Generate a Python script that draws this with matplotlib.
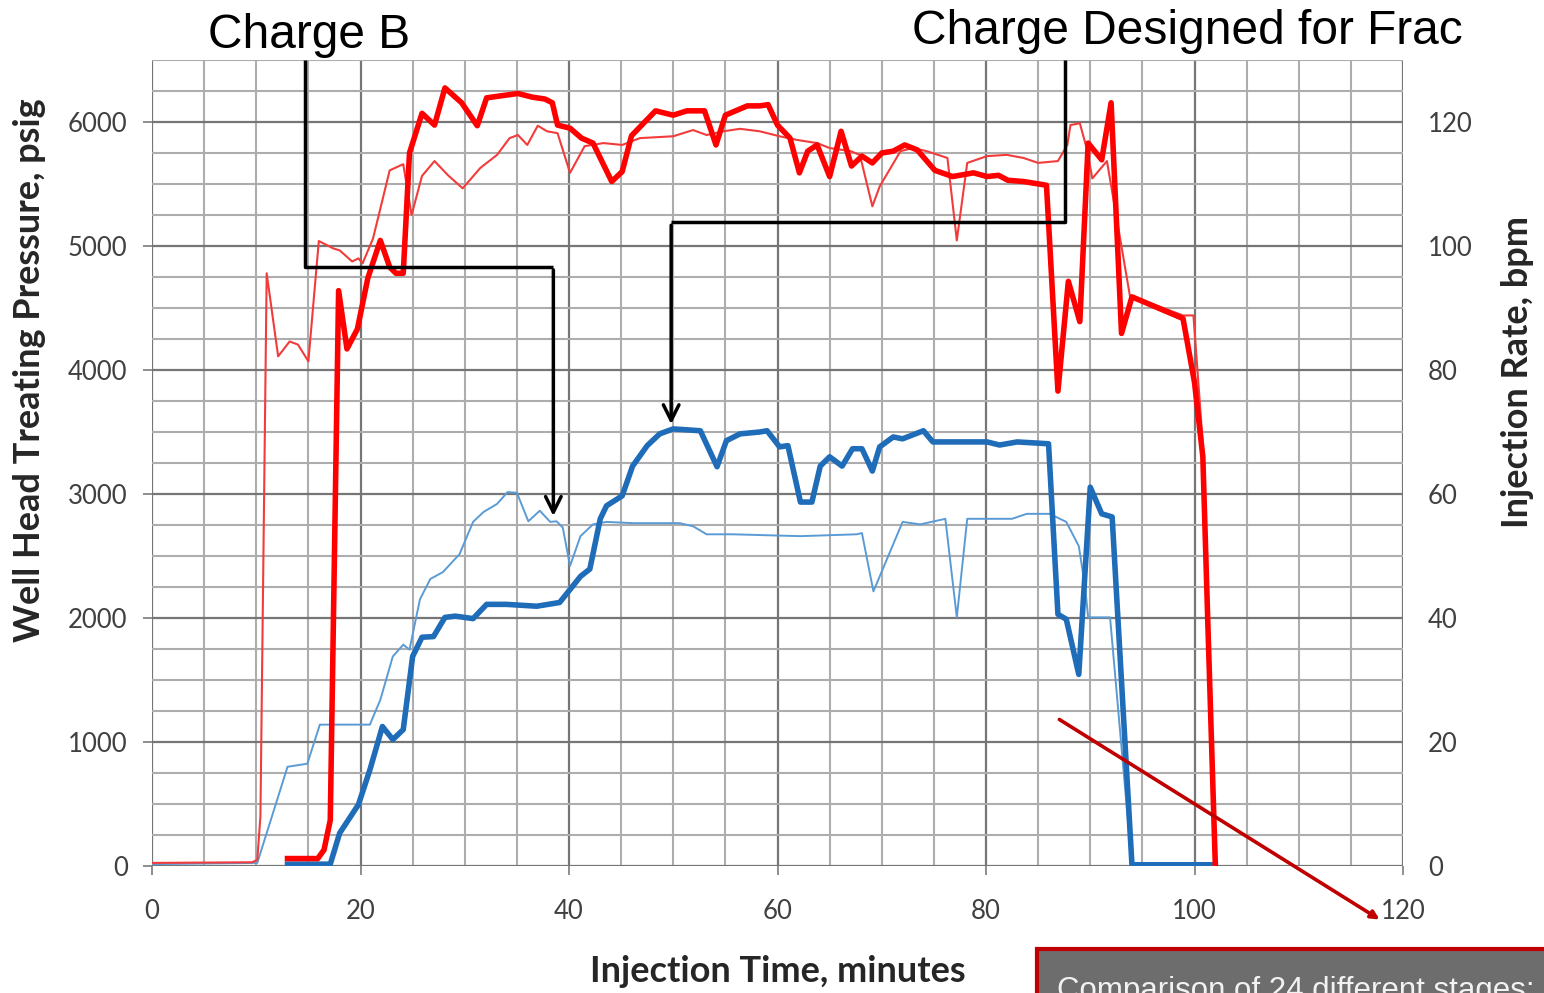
import matplotlib
matplotlib.use("Agg")
import matplotlib.pyplot as plt
from matplotlib.ticker import MultipleLocator
from matplotlib.patches import Rectangle, FancyArrowPatch
from matplotlib.lines import Line2D

# ---------------- data ----------------
# Charge Designed for Frac - pressure (psig)
frac_p_t = [13.0, 15.9, 16.5, 17.1, 17.9, 18.7, 19.7, 20.7, 21.9, 22.8, 23.4, 24.1, 24.7, 25.9,
            27.1, 28.1, 29.7, 31.2, 32.1, 35.1, 36.5, 37.7, 38.4, 38.9, 40.1, 41.2, 42.3, 44.1,
            45.1, 46.0, 48.3, 50.0, 51.3, 53.0, 54.1, 55.0, 57.1, 58.3, 59.1, 60.0, 61.2, 62.1,
            62.9, 63.8, 65.0, 66.1, 67.1, 68.1, 69.1, 70.0, 71.1, 72.2, 73.4, 75.1, 76.8, 78.8,
            80.1, 81.2, 82.1, 83.6, 85.8, 86.9, 87.9, 89.0, 89.8, 91.1, 92.0, 93.0, 94.0, 98.9,
            100.0, 100.8, 101.3, 102.0]
frac_p = [60, 60, 130, 370, 4640, 4170, 4330, 4740, 5045, 4830, 4780, 4780, 5750, 6070,
          5975, 6275, 6155, 5970, 6195, 6230, 6200, 6185, 6155, 5975, 5950, 5870, 5830, 5520,
          5600, 5890, 6090, 6055, 6090, 6090, 5815, 6055, 6130, 6130, 6140, 5975, 5870, 5590,
          5765, 5815, 5560, 5925, 5645, 5725, 5670, 5750, 5765, 5815, 5775, 5610, 5560, 5590,
          5560, 5570, 5530, 5520, 5490, 3830, 4715, 4390, 5830, 5695, 6155, 4295, 4590, 4415,
          3900, 3300, 1900, 0]

# Charge B - pressure (psig)
chb_p_t = [0, 9.6, 10.1, 10.4, 11.0, 12.1, 13.2, 14.0, 15.0, 16.0, 17.4, 18.0, 19.2, 19.8,
           20.2, 21.2, 22.8, 24.1, 24.9, 25.9, 27.1, 28.4, 29.8, 31.5, 33.1, 34.3, 35.1, 36.0,
           37.0, 37.9, 38.9, 40.1, 41.5, 43.3, 45.1, 46.8, 50.0, 51.9, 53.2, 54.8, 56.4, 58.3,
           60.2, 61.9, 63.8, 65.0, 67.0, 67.9, 69.1, 69.8, 71.8, 73.0, 74.3, 76.3, 77.2, 78.2,
           80.1, 82.0, 83.6, 85.0, 86.9, 87.8, 88.1, 89.0, 89.7, 90.2, 91.6, 93.8, 98.9, 99.9,
           100.8, 101.3, 102.0]
chb_p = [25, 30, 50, 400, 4780, 4110, 4230, 4205, 4070, 5040, 4980, 4965, 4875, 4900,
         4860, 5060, 5610, 5660, 5250, 5565, 5685, 5570, 5465, 5630, 5735, 5870, 5895, 5815,
         5970, 5925, 5910, 5590, 5805, 5830, 5815, 5870, 5885, 5935, 5895, 5925, 5945, 5925,
         5885, 5855, 5830, 5790, 5765, 5735, 5320, 5480, 5765, 5790, 5765, 5710, 5045, 5670,
         5725, 5735, 5710, 5670, 5685, 5815, 5975, 5990, 5775, 5545, 5685, 4600, 4440, 4440,
         3400, 1900, 0]

# Charge Designed for Frac - injection rate (bpm)
frac_r_t = [13.0, 17.1, 18.0, 19.8, 20.9, 22.1, 23.1, 24.1, 25.0, 25.9, 27.0, 28.1, 29.1,
            30.8, 32.1, 34.0, 36.9, 39.1, 40.1, 41.1, 42.0, 43.0, 43.6, 45.1, 46.1, 47.5,
            48.7, 50.0, 52.6, 54.2, 55.1, 56.4, 58.3, 59.0, 60.2, 61.0, 62.2, 63.3, 64.1,
            65.0, 66.2, 67.2, 68.1, 69.1, 69.8, 71.1, 72.0, 74.0, 74.9, 80.1, 81.3, 83.0,
            86.0, 86.9, 87.7, 88.9, 90.0, 91.1, 92.1, 94.0, 102.0]
frac_r = [0.3, 0.3, 5.3, 9.9, 15.5, 22.5, 20.4, 22.0, 33.8, 36.9, 37.0, 40.1, 40.3,
          39.9, 42.2, 42.2, 41.9, 42.5, 44.6, 46.7, 47.9, 56.0, 58.1, 59.7, 64.5, 67.8,
          69.7, 70.5, 70.2, 64.4, 68.6, 69.7, 70.0, 70.2, 67.6, 67.8, 58.7, 58.7, 64.5,
          66.0, 64.5, 67.3, 67.3, 63.7, 67.6, 69.2, 68.9, 70.2, 68.4, 68.4, 67.9, 68.4,
          68.1, 40.6, 39.8, 30.9, 61.1, 56.8, 56.3, 0.2, 0.2]

# Charge B - injection rate (bpm)
chb_r_t = [0, 10.1, 13.0, 14.9, 16.1, 20.9, 21.9, 23.1, 24.1, 24.7, 25.7, 26.7, 27.9, 29.5,
           30.8, 31.8, 33.1, 34.1, 35.0, 36.1, 37.2, 38.2, 38.8, 39.4, 40.1, 41.1, 42.3, 43.6,
           46.1, 50.6, 51.9, 53.2, 55.7, 62.2, 67.6, 68.1, 69.2, 72.0, 73.7, 76.1, 77.2, 78.2,
           82.5, 83.9, 86.1, 87.7, 88.9, 89.5, 89.8, 91.9, 94.0]
chb_r = [0.3, 0.5, 16.0, 16.5, 22.8, 22.8, 26.8, 33.8, 35.7, 34.9, 43.0, 46.3, 47.4, 50.3,
         55.5, 57.1, 58.4, 60.3, 60.2, 55.6, 57.3, 55.5, 55.6, 54.6, 48.4, 53.2, 55.1, 55.5,
         55.3, 55.3, 54.8, 53.5, 53.5, 53.2, 53.5, 53.7, 44.3, 55.5, 55.1, 56.0, 40.1, 56.0,
         56.0, 56.8, 56.8, 55.5, 51.6, 45.1, 40.1, 40.1, 0]

x_ticks = [0, 20, 40, 60, 80, 100, 120]
p_ticks = [0, 1000, 2000, 3000, 4000, 5000, 6000]
r_ticks = [0, 20, 40, 60, 80, 100, 120]

# ---------------- figure ----------------
W, H = 1544, 993
fig = plt.figure(figsize=(W / 100, H / 100), dpi=100)
fig.patch.set_facecolor("white")

L, R, T, B = 152, 1403, 60, 866
ax = fig.add_axes([L / W, 1 - B / H, (R - L) / W, (B - T) / H])  # rate axis (grid)
ax2 = ax.twinx()                                                  # pressure axis

RED = "#ff0000"
RED_THIN = "#f23c3c"
BLUE = "#1f6cb8"
BLUE_THIN = "#5b9bd5"

ax.set_xlim(0, 120)
ax.set_ylim(0, 130)
ax2.set_ylim(0, 6500)

ax.set_axisbelow(True)
ax.xaxis.set_major_locator(MultipleLocator(20))
ax.xaxis.set_minor_locator(MultipleLocator(5))
ax.yaxis.set_major_locator(MultipleLocator(20))
ax.yaxis.set_minor_locator(MultipleLocator(5))
ax.grid(which="major", color="#767676", lw=1.6)
ax.grid(which="minor", color="#adadad", lw=1.5)

ax.set_xticks(x_ticks)
ax.set_yticks(r_ticks)
ax2.set_yticks(p_ticks)
ax.set_xticklabels([str(v) for v in x_ticks])
ax.set_yticklabels([str(v) for v in r_ticks])
ax2.set_yticklabels([str(v) for v in p_ticks])

ax.yaxis.tick_right()
ax.yaxis.set_label_position("right")
ax2.yaxis.tick_left()
ax2.yaxis.set_label_position("left")

for a in (ax, ax2):
    for s in a.spines.values():
        s.set_visible(False)

TS = 18.5
ax.tick_params(axis="x", which="major", length=6.5, width=1.2, color="#7a7a7a",
               pad=17, labelcolor="#404040", labelsize=TS)
ax.tick_params(axis="x", which="minor", length=0)
ax.tick_params(axis="y", which="both", length=0, pad=18, labelcolor="#404040", labelsize=TS)
ax2.tick_params(axis="y", which="major", length=6.5, width=1.2, color="#7a7a7a",
                pad=11, labelcolor="#404040", labelsize=TS)
for lab in ax.get_xticklabels() + ax.get_yticklabels() + ax2.get_yticklabels():
    lab.set_fontfamily(["Lato", "DejaVu Sans"])

# series
ax.plot(chb_r_t, chb_r, color=BLUE_THIN, lw=1.4, zorder=3)
ax.plot(frac_r_t, frac_r, color=BLUE, lw=4.0, zorder=4, solid_joinstyle="round")
ax2.plot(chb_p_t, chb_p, color=RED_THIN, lw=1.5, zorder=3)
ax2.plot(frac_p_t, frac_p, color=RED, lw=4.0, zorder=4, solid_joinstyle="round")

# axis labels
lab_font = dict(family=["Lato", "DejaVu Sans"], weight="bold", size=26, color="#262626")
fig.text(30 / W, 1 - 370 / H, "Well Head Treating Pressure, psig", rotation=90,
         ha="center", va="center", **lab_font)
fig.text(1518 / W, 1 - 372 / H, "Injection Rate, bpm", rotation=90,
         ha="center", va="center", **lab_font)
fig.text(778 / W, 1 - 972 / H, "Injection Time, minutes", ha="center", va="center", **lab_font)

# annotations (black callout lines with arrows)
blk = dict(color="black", lw=2.5, solid_capstyle="butt", clip_on=False, zorder=6)
ax2.add_line(Line2D([14.7, 14.7, 38.5], [6500, 4830, 4830], **blk))
ax2.annotate("", xy=(38.5, 2800), xytext=(38.5, 4830),
             arrowprops=dict(arrowstyle="->", color="black", lw=2.5, mutation_scale=28),
             zorder=6)
ax2.add_line(Line2D([87.6, 87.6, 49.8], [6500, 5190, 5190], **blk))
ax2.annotate("", xy=(49.8, 3540), xytext=(49.8, 5190),
             arrowprops=dict(arrowstyle="->", color="black", lw=2.5, mutation_scale=28),
             zorder=6)

title_font = dict(family=["Liberation Sans", "DejaVu Sans"], size=34.5, color="black")
fig.text(208 / W, 1 - 48 / H, "Charge B", ha="left", va="baseline", **title_font)
fig.text(912 / W, 1 - 44 / H, "Charge Designed for Frac", ha="left", va="baseline", **title_font)

# red pointer line to the comment box
fig.add_artist(FancyArrowPatch(
    (1057 / W, 1 - 718 / H), (1382 / W, 1 - 921 / H), transform=fig.transFigure,
    arrowstyle="-|>", mutation_scale=12, color="#c00000", lw=2.6))

# comment box (partly cut off, as in the source image)
fig.add_artist(Rectangle((1037 / W, -0.05), 0.5, (1 - 949 / H) + 0.05,
                         transform=fig.transFigure, facecolor="#6d6d6d",
                         edgecolor="#c00000", lw=3))
fig.text(1057 / W, 1 - 999 / H, "Comparison of 24 different stages:", ha="left",
         va="baseline", family=["Liberation Sans", "DejaVu Sans"], size=22.5,
         color="#f2f2f2")

fig.savefig("out.png", dpi=100, facecolor="white")
